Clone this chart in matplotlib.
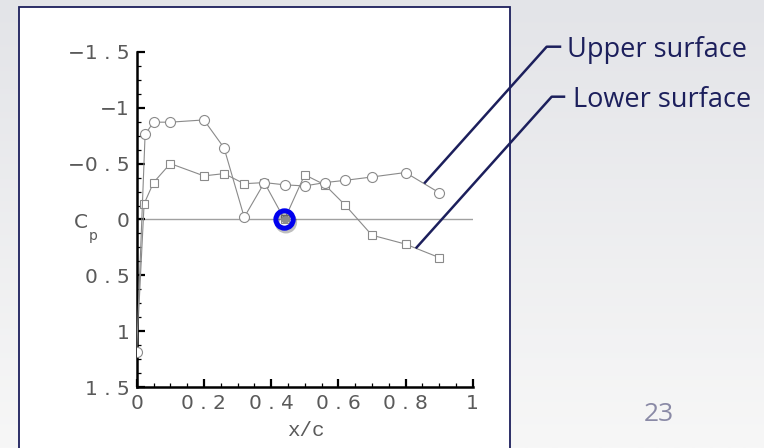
import numpy as np
import matplotlib
matplotlib.use("Agg")
from matplotlib import pyplot as plt
from matplotlib.ticker import MultipleLocator, FuncFormatter
from matplotlib.patches import Rectangle
from matplotlib.lines import Line2D
import matplotlib.patheffects as pe

# pressure coefficient (x/c, Cp)
upperX = [0.0, 0.025, 0.05, 0.1, 0.2, 0.26, 0.32, 0.38, 0.44, 0.5, 0.56, 0.62, 0.7, 0.8, 0.9]
upperCp = [1.18, -0.76, -0.87, -0.87, -0.89, -0.64, -0.02, -0.33, -0.31, -0.30, -0.33, -0.35, -0.38, -0.42, -0.24]
lowerX = [0.0, 0.022, 0.05, 0.1, 0.2, 0.26, 0.32, 0.38, 0.44, 0.5, 0.56, 0.62, 0.7, 0.8, 0.9]
lowerCp = [1.18, -0.14, -0.33, -0.50, -0.39, -0.41, -0.32, -0.33, 0.0, -0.40, -0.31, -0.13, 0.14, 0.22, 0.34]
badTap = (0.44, 0.0)
upperLabelAt = (0.858, -0.33)
lowerLabelAt = (0.833, 0.25)
pageNumber = "23"

W, H = 764, 448
navy = "#1c1f5c"
gray = "#8a8a8a"
txtgray = "#5a5a5a"

fig = plt.figure(figsize=(W / 100, H / 100), dpi=100)

def px(x, y):
    # pixel position (from top-left) -> figure fraction
    return x / W, 1 - y / H

# slide background
bg = fig.add_axes([0, 0, 1, 1], zorder=-3)
grad = np.linspace(0, 1, 256).reshape(-1, 1)
bg.imshow(grad, cmap=matplotlib.colors.LinearSegmentedColormap.from_list("bg", ["#e3e4e8", "#f7f7f7"]),
          aspect="auto", extent=[0, 1, 0, 1])
bg.axis("off")

# white frame around the plot
x0, y0 = px(19, 7)
fig.add_artist(Rectangle((x0, -0.02), 491 / W, y0 + 0.02, transform=fig.transFigure,
                         facecolor="white", edgecolor=navy, lw=1.3, zorder=-2))

ax = fig.add_axes([136.7 / W, 1 - 387.3 / H, 336 / W, 335.6 / H], zorder=1)
ax.patch.set_alpha(0)

ax.axhline(0, color="#a0a0a0", lw=1.0, zorder=1)
ax.plot(upperX, upperCp, color=gray, lw=0.8, marker="o", ms=7.2, mfc="white", mec=gray, mew=0.8, zorder=3)
ax.plot(lowerX, lowerCp, color=gray, lw=0.8, marker="s", ms=5.2, mfc="white", mec=gray, mew=0.8,
        markevery=list(range(1, len(lowerX))), zorder=2)
ax.plot(badTap[0], badTap[1], "o", ms=6, mfc="#8c8c8c", mec="none", zorder=4)
ax.plot(badTap[0], badTap[1], "o", ms=12.5, mfc="none", mec="#0000ee", mew=3.6, zorder=5,
        path_effects=[pe.SimpleLineShadow(offset=(1, -2), alpha=0.25, shadow_color="black"), pe.Normal()])

ax.set_xlim(0, 1)
ax.set_ylim(1.5, -1.5)
ax.spines["top"].set_visible(False)
ax.spines["right"].set_visible(False)
ax.spines["left"].set_linewidth(1.8)
ax.spines["bottom"].set_linewidth(1.8)
ax.xaxis.set_major_locator(MultipleLocator(0.2))
ax.xaxis.set_minor_locator(MultipleLocator(0.05))
ax.yaxis.set_major_locator(MultipleLocator(0.5))
ax.yaxis.set_minor_locator(MultipleLocator(0.125))

def spaced(v, pos):
    s = "%g" % round(abs(v), 3)
    out = " ".join(s)
    if v < -1e-9:
        out = "\u2212" + out
    return out

ax.xaxis.set_major_formatter(FuncFormatter(spaced))
ax.yaxis.set_major_formatter(FuncFormatter(spaced))
ax.tick_params(which="major", direction="in", length=6, width=1.6, labelsize=14.5,
               labelcolor=txtgray, pad=5)
ax.tick_params(which="minor", direction="in", length=3, width=0.9)
for lab in ax.get_xticklabels() + ax.get_yticklabels():
    lab.set_fontfamily("DejaVu Sans")

fig.text(81 / W, 1 - 222 / H, "C", fontsize=14.5, color=txtgray, family="DejaVu Sans",
         ha="center", va="center")
fig.text(93 / W, 1 - 236 / H, "p", fontsize=10, color=txtgray, family="DejaVu Sans",
         ha="center", va="center")
fig.text(306 / W, 1 - 430 / H, "x/c", fontsize=15, color=txtgray, family="Liberation Mono",
         ha="center", va="center")

# callout lines to the two curves
fig.canvas.draw()
def data_px(pt):
    dx, dy = ax.transData.transform(pt)
    return dx, H - dy

ux, uy = data_px(upperLabelAt)
lx, ly = data_px(lowerLabelAt)
for (sx, sy), bend, end in [((ux, uy), (546.7, 46.7), (560, 46.7)),
                            ((lx, ly), (551.7, 96.7), (564, 96.7))]:
    xs = [sx, bend[0], end[0]]
    ys = [sy, bend[1], end[1]]
    fig.add_artist(Line2D([x / W for x in xs], [1 - y / H for y in ys], color=navy, lw=1.8,
                          transform=fig.transFigure, zorder=6))

fig.text(567 / W, 1 - 50 / H, "Upper surface", fontsize=19.5, color=navy, family="Open Sans",
         ha="left", va="center", zorder=7)
fig.text(573 / W, 1 - 100 / H, "Lower surface", fontsize=19.5, color=navy, family="Open Sans",
         ha="left", va="center", zorder=7)
fig.text(659 / W, 1 - 414 / H, pageNumber, fontsize=19, color="#8a8aa6", family="Open Sans",
         ha="center", va="center")

fig.savefig("out.png", dpi=100)
